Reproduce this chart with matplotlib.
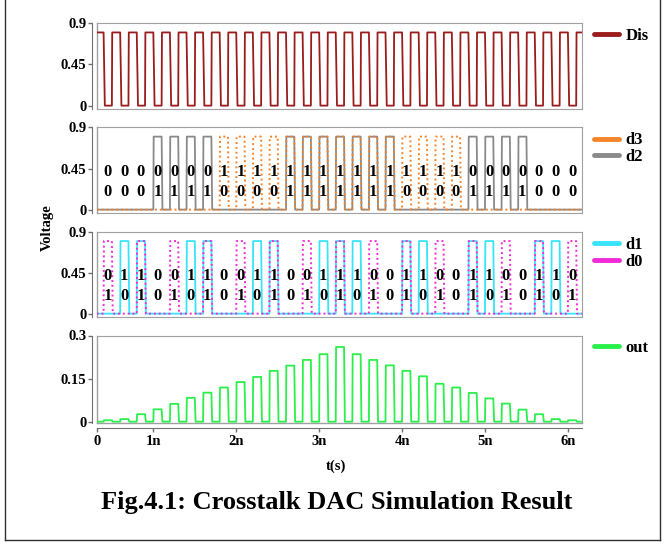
import matplotlib
matplotlib.use("Agg")
import matplotlib.pyplot as plt
from matplotlib.lines import Line2D

plt.rcParams['font.family'] = ['Liberation Serif', 'DejaVu Serif']
plt.rcParams['font.weight'] = 'bold'

# counter code in each clock slot: counts up 1..15 then back down to 1
codes = [1, 2, 3, 4, 5, 6, 7, 8, 9, 10, 11, 12, 13, 14, 15,
         14, 13, 12, 11, 10, 9, 8, 7, 6, 5, 4, 3, 2, 1]
# DAC output peak in each slot (V)
out_levels = [0.005, 0.009, 0.026, 0.043, 0.062, 0.083, 0.101, 0.119, 0.138, 0.156,
              0.177, 0.195, 0.215, 0.235, 0.260,
              0.235, 0.215, 0.196, 0.177, 0.158, 0.132, 0.119, 0.100, 0.081, 0.063,
              0.042, 0.026, 0.009, 0.005]

# timing (ns) and supply level
t_first = 0.4
period = 0.2
pulse_w = 0.1
vhigh = 0.8
t_start, t_end = 0.317, 6.17

x_ticks = [t_start, 1, 2, 3, 4, 5, 6]
x_labels = ['0', '1n', '2n', '3n', '4n', '5n', '6n']

d3 = [(c >> 3) & 1 for c in codes]
d2 = [(c >> 2) & 1 for c in codes]
d1 = [(c >> 1) & 1 for c in codes]
d0 = [c & 1 for c in codes]

colors = {'Dis': '#9a1c1c', 'd3': '#f5842a', 'd2': '#8a8a8a',
          'd1': '#38e4fa', 'd0': '#f22ad8', 'out': '#2af04c'}


def pulse_train(levels, base=0.0, edge1=0.004, edge2=0.010):
    """Piecewise-linear trace: one pulse per slot, level taken from levels."""
    t, v = [t_start], [base]
    for i, lv in enumerate(levels):
        if lv == base:
            continue
        t0 = t_first + i * period
        t += [t0, t0 + edge1, t0 + pulse_w, t0 + pulse_w + edge2]
        v += [base, lv, lv, base]
    t.append(t_end)
    v.append(base)
    return t, v


W, H = 665, 545


def rect(top, bottom, left=96.7, right=582.0):
    return [left / W, 1 - bottom / H, (right - left) / W, (bottom - top) / H]


fig = plt.figure(figsize=(6.65, 5.45), dpi=100)
panels = [(23.3, 109.0), (127.5, 213.0), (232.0, 317.0), (335.5, 422.7)]
axes = [fig.add_axes(rect(t, b)) for t, b in panels]

box_c = '#a0a0a0'
axis_c = '#707070'
for k, ax in enumerate(axes):
    ax.set_xlim(t_start, t_end)
    for s in ['top', 'right', 'bottom']:
        ax.spines[s].set_color(box_c)
    ax.spines['left'].set_position(('outward', 3.5))
    ax.spines['left'].set_color(axis_c)
    ax.plot([0, 0], [0, 1], transform=ax.transAxes, color=box_c, lw=1, clip_on=False)
    ax.tick_params(axis='y', direction='out', length=3, width=1, color=axis_c,
                   labelsize=10.5, pad=1)
    if k < 3:
        ax.set_ylim(-0.037, 0.9)
        ax.set_yticks([0, 0.45, 0.9])
        ax.set_yticklabels(['0', '0.45', '0.9'])
        ax.set_xticks([])
    else:
        ax.set_ylim(-0.0035, 0.3)
        ax.set_yticks([0, 0.15, 0.3])
        ax.set_yticklabels(['0', '0.15', '0.3'])
        ax.spines['bottom'].set_position(('outward', 4))
        ax.spines['bottom'].set_color(axis_c)
        ax.plot([0, 1], [0, 0], transform=ax.transAxes, color=box_c, lw=1, clip_on=False)
        ax.set_xticks(x_ticks)
        ax.set_xticklabels(x_labels)
        ax.tick_params(axis='x', direction='out', length=3, width=1, color=axis_c,
                       labelsize=10.5, pad=2)

# Dis: high except during each data slot
t, v = pulse_train([0] * len(codes), base=vhigh, edge1=0.015, edge2=0.004)
axes[0].plot(t, v, color=colors['Dis'], lw=1.3)

t, v = pulse_train([b * vhigh for b in d2])
axes[1].plot(t, v, color=colors['d2'], lw=1.3)
t, v = pulse_train([b * vhigh for b in d3])
axes[1].plot(t, v, color=colors['d3'], lw=1.4, ls=(0, (1, 1.5)))

t, v = pulse_train([b * vhigh for b in d1])
axes[2].plot(t, v, color=colors['d1'], lw=1.3)
t, v = pulse_train([b * vhigh for b in d0])
axes[2].plot(t, v, color=colors['d0'], lw=1.4, ls=(0, (1, 1.5)))

t, v = pulse_train(out_levels)
axes[3].plot(t, v, color=colors['out'], lw=1.3)

# bit values written over the traces
for ax, top_bits, bot_bits in [(axes[1], d3, d2), (axes[2], d1, d0)]:
    for i in range(len(codes)):
        tc = t_first + i * period + pulse_w / 2
        ax.text(tc, 0.41, str(top_bits[i]), ha='center', va='center', fontsize=12)
        ax.text(tc, 0.19, str(bot_bits[i]), ha='center', va='center', fontsize=12)

# legends on the right
legend_sets = [['Dis'], ['d3', 'd2'], ['d1', 'd0'], ['out']]
for ax, names in zip(axes, legend_sets):
    handles = [Line2D([], [], color=colors[n], lw=3.5, solid_capstyle='round') for n in names]
    ax.legend(handles, names, loc='upper left', bbox_to_anchor=(1.005, 1.06),
              frameon=False, handlelength=1.5, handletextpad=0.35, labelspacing=0.05,
              borderaxespad=0.2, prop={'size': 12, 'weight': 'bold'})

fig.text(47 / W, 1 - 228 / H, 'Voltage', rotation=90, ha='center', va='center', fontsize=10.5)
fig.text(336 / W, 1 - 466 / H, 't(s)', ha='center', va='center', fontsize=10.5)
fig.text(336.5 / W, 1 - 503 / H, 'Fig.4.1: Crosstalk DAC Simulation Result',
         ha='center', va='center', fontsize=19)

# outer frame of the figure
for xs, ys in [([5, 5], [0, 540]), ([660, 660], [0, 540]), ([5, 660], [540, 540])]:
    fig.add_artist(Line2D([x / W for x in xs], [1 - y / H for y in ys], color='#303030', lw=1))

fig.savefig('out.png', dpi=100)
